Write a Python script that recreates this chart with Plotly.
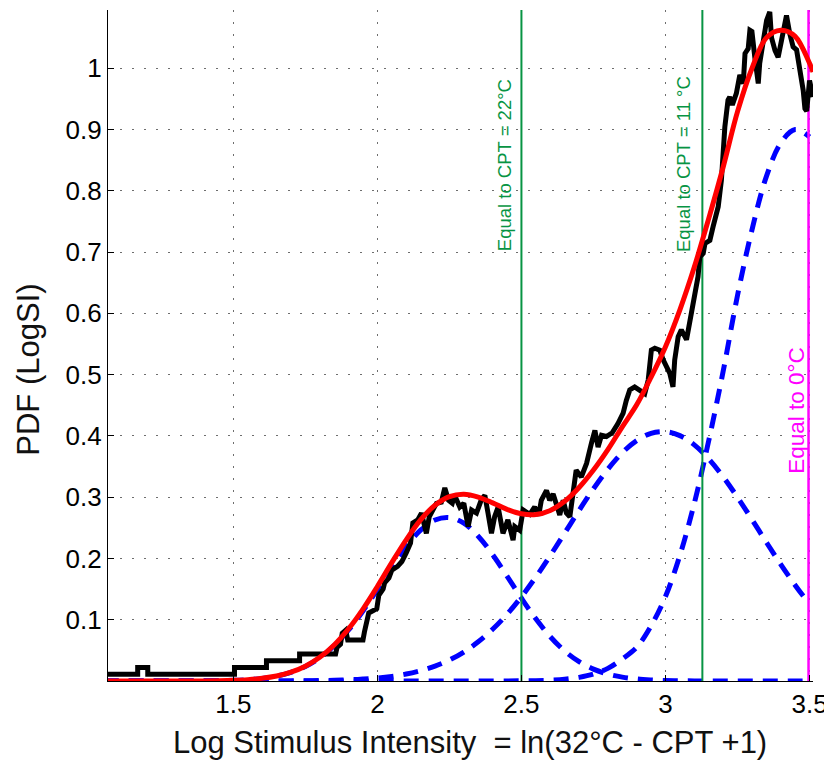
import plotly.graph_objects as go

# ---------------- data ----------------
FIT_X = [1.05, 1.10, 1.15, 1.20, 1.25, 1.30, 1.35, 1.40, 1.45, 1.50,
         1.55, 1.60, 1.65, 1.70, 1.75, 1.80, 1.85, 1.90, 1.95, 2.00,
         2.05, 2.10, 2.15, 2.20, 2.25, 2.30, 2.35, 2.40, 2.45, 2.50,
         2.55, 2.60, 2.65, 2.70, 2.75, 2.80, 2.85, 2.90, 2.95, 3.00,
         3.05, 3.10, 3.15, 3.20, 3.25, 3.30, 3.35, 3.40, 3.45, 3.50]

COMP1_Y = [0, 0, 0, 0, 0, 0, 0.0001, 0.0002, 0.0005, 0.0011,
           0.0022, 0.0043, 0.0080, 0.0141, 0.0237, 0.0379, 0.0577, 0.0833, 0.1143, 0.1494,
           0.1856, 0.2191, 0.2461, 0.2627, 0.2667, 0.2575, 0.2363, 0.2063, 0.1711, 0.1351,
           0.1014, 0.0723, 0.0490, 0.0316, 0.0194, 0.0113, 0.0063, 0.0033, 0.0017, 0.0008,
           0.0004, 0.0002, 0, 0, 0, 0, 0, 0, 0, 0]

COMP2_Y = [0, 0, 0, 0, 0, 0, 0, 0, 0, 0,
           0, 0.0001, 0.0001, 0.0002, 0.0004, 0.0007, 0.0011, 0.0019, 0.0031, 0.0048,
           0.0075, 0.0113, 0.0168, 0.0242, 0.0342, 0.0473, 0.0639, 0.0844, 0.1089, 0.1375,
           0.1696, 0.2046, 0.2413, 0.2783, 0.3137, 0.3457, 0.3725, 0.3924, 0.4041, 0.4068,
           0.4004, 0.3853, 0.3625, 0.3334, 0.2998, 0.2636, 0.2265, 0.1904, 0.1564, 0.1256]

COMP3_Y = [0, 0, 0, 0, 0, 0, 0, 0, 0, 0,
           0, 0, 0, 0, 0, 0, 0, 0, 0, 0,
           0, 0, 0, 0, 0, 0, 0, 0, 0.0001, 0.0003,
           0.0006, 0.0014, 0.0029, 0.0059, 0.0112, 0.0206, 0.0360, 0.055, 0.090, 0.138,
           0.205, 0.290, 0.392, 0.505, 0.6293, 0.7359, 0.8230, 0.878, 0.900, 0.888]

RED_EXTRA_X = [3.512]
RED_Y = [0, 0, 0, 0, 0, 0, 0.0001, 0.0002, 0.0005, 0.0011,
         0.0022, 0.0044, 0.0081, 0.0143, 0.0241, 0.0386, 0.0588, 0.0852, 0.1174, 0.1542,
         0.1931, 0.2304, 0.2629, 0.2869, 0.3009, 0.3048, 0.3002, 0.2907, 0.2801, 0.2729,
         0.2716, 0.2783, 0.2932, 0.3158, 0.3443, 0.3776, 0.4148, 0.4507, 0.4958, 0.5456,
         0.6058, 0.6755, 0.7545, 0.8384, 0.9291, 0.9995, 1.0495, 1.0620, 1.0520, 1.0080,
         0.994]

EMP_X = [1.065, 1.168, 1.168, 1.203, 1.203, 1.504, 1.504, 1.615, 1.615, 1.73,
         1.73, 1.855, 1.86, 1.872, 1.878, 1.89, 1.897, 1.95, 1.955, 1.965,
         1.97, 1.998, 2.005, 2.02, 2.025, 2.04, 2.05, 2.07, 2.085, 2.10,
         2.115, 2.123, 2.14, 2.153, 2.17, 2.18, 2.205, 2.222, 2.234, 2.247,
         2.26, 2.268, 2.286, 2.30, 2.315, 2.327, 2.344, 2.361, 2.373, 2.384,
         2.396, 2.407, 2.419, 2.436, 2.453, 2.471, 2.477, 2.494, 2.506, 2.529,
         2.546, 2.56, 2.569, 2.587, 2.598, 2.61, 2.62, 2.633, 2.645, 2.656,
         2.668, 2.68, 2.69, 2.708, 2.726, 2.743, 2.755, 2.766, 2.778, 2.795,
         2.815, 2.835, 2.853, 2.864, 2.876, 2.893, 2.911, 2.928, 2.94, 2.951,
         2.963, 2.98, 2.992, 3.003, 3.015, 3.026, 3.032, 3.044, 3.055, 3.073,
         3.085, 3.096, 3.108, 3.113, 3.119, 3.131, 3.137, 3.154, 3.165, 3.183,
         3.194, 3.2, 3.206, 3.217, 3.223, 3.232, 3.246, 3.258, 3.27, 3.276,
         3.287, 3.293, 3.30, 3.31, 3.322, 3.327, 3.339, 3.351, 3.362, 3.368,
         3.38, 3.391, 3.403, 3.414, 3.42, 3.431, 3.443, 3.455, 3.466, 3.478,
         3.484, 3.49, 3.5, 3.512]
EMP_Y = [0.011, 0.011, 0.022, 0.022, 0.011, 0.011, 0.022, 0.022, 0.033, 0.033,
         0.044, 0.044, 0.055, 0.06, 0.078, 0.083, 0.067, 0.067, 0.08, 0.10,
         0.111, 0.118, 0.14, 0.15, 0.16, 0.168, 0.181, 0.187, 0.195, 0.209,
         0.225, 0.258, 0.263, 0.274, 0.241, 0.268, 0.29, 0.292, 0.315, 0.295,
         0.29, 0.303, 0.284, 0.29, 0.252, 0.279, 0.274, 0.296, 0.303, 0.274,
         0.241, 0.268, 0.284, 0.241, 0.263, 0.23, 0.252, 0.246, 0.279, 0.272,
         0.284, 0.27, 0.295, 0.311, 0.295, 0.305, 0.29, 0.271, 0.295, 0.274,
         0.268, 0.311, 0.344, 0.333, 0.355, 0.388, 0.409, 0.382, 0.401, 0.399,
         0.405, 0.42, 0.437, 0.458, 0.475, 0.48, 0.475, 0.469, 0.491, 0.54,
         0.543, 0.54, 0.524, 0.513, 0.502, 0.48, 0.524, 0.562, 0.573, 0.557,
         0.589, 0.622, 0.649, 0.66, 0.692, 0.698, 0.714, 0.719, 0.741, 0.774,
         0.817, 0.883, 0.904, 0.948, 0.953, 0.94, 0.959, 0.989, 0.975, 1.024,
         1.032, 1.062, 1.06, 1.018, 0.975, 1.008, 1.046, 1.078, 1.092, 1.05,
         1.029, 1.018, 1.046, 1.078, 1.086, 1.057, 1.035, 1.03, 1.002, 0.964,
         0.934, 0.93, 0.98, 0.953]

GREEN_X = [2.5, 3.128]
GREEN_LABELS = ["Equal to CPT = 22°C", "Equal to CPT = 11 °C"]
GREEN_LABEL_X = [2.440, 3.065]
GREEN_LABEL_Y = [0.842, 0.844]
MAGENTA_X = 3.4965
MAGENTA_LABEL = "Equal to 0°C"
MAGENTA_LABEL_POS = (3.452, 0.442)

X_TICKS = [1.5, 2, 2.5, 3, 3.5]
X_TICK_TEXT = ["1.5", "2", "2.5", "3", "3.5"]
Y_TICKS = [0.1, 0.2, 0.3, 0.4, 0.5, 0.6, 0.7, 0.8, 0.9, 1.0]
Y_TICK_TEXT = ["0.1", "0.2", "0.3", "0.4", "0.5", "0.6", "0.7", "0.8", "0.9", "1"]
X_RANGE = [1.065, 3.512]
Y_RANGE = [0, 1.095]

X_TITLE = "Log Stimulus Intensity  = ln(32°C - CPT +1)"
Y_TITLE = "PDF (LogSI)"

FONT = "Liberation Sans, Arial, sans-serif"
GREEN = "#079443"
MAGENTA = "#ff00ff"

fig = go.Figure()

# Gaussian components (blue dashed)
for comp in (COMP1_Y, COMP2_Y, COMP3_Y):
    fig.add_trace(go.Scatter(x=FIT_X, y=comp, mode="lines",
                             line=dict(color="#0000ff", width=5, dash="15px,10px", shape="spline"),
                             hoverinfo="skip", showlegend=False))

# vertical reference lines
for gx in GREEN_X:
    fig.add_trace(go.Scatter(x=[gx, gx], y=Y_RANGE, mode="lines",
                             line=dict(color=GREEN, width=2), showlegend=False))
fig.add_trace(go.Scatter(x=[MAGENTA_X, MAGENTA_X], y=Y_RANGE, mode="lines",
                         line=dict(color=MAGENTA, width=2.5), showlegend=False))

# empirical PDF (black)
fig.add_trace(go.Scatter(x=EMP_X, y=EMP_Y, mode="lines",
                         line=dict(color="black", width=5), showlegend=False))

# fitted mixture (red)
fig.add_trace(go.Scatter(x=FIT_X + RED_EXTRA_X, y=RED_Y, mode="lines",
                         line=dict(color="#ff0000", width=5, shape="spline"),
                         showlegend=False))

annotations = []
for lbl, lx, ly in zip(GREEN_LABELS, GREEN_LABEL_X, GREEN_LABEL_Y):
    annotations.append(dict(x=lx, y=ly, xref="x", yref="y", text=lbl, textangle=-90,
                            showarrow=False, xanchor="center", yanchor="middle",
                            font=dict(family=FONT, size=18.5, color=GREEN)))
annotations.append(dict(x=MAGENTA_LABEL_POS[0], y=MAGENTA_LABEL_POS[1], xref="x", yref="y",
                        text=MAGENTA_LABEL, textangle=-90, showarrow=False,
                        xanchor="center", yanchor="middle",
                        font=dict(family=FONT, size=22.5, color=MAGENTA)))
annotations.append(dict(x=0.514, y=-0.091, xref="paper", yref="paper", text=X_TITLE,
                        showarrow=False, xanchor="center", yanchor="middle",
                        font=dict(family=FONT, size=31, color="#111111")))
annotations.append(dict(x=-0.112, y=0.464, xref="paper", yref="paper", text=Y_TITLE,
                        textangle=-90, showarrow=False, xanchor="center", yanchor="middle",
                        font=dict(family=FONT, size=31, color="#111111")))

fig.update_layout(
    width=824, height=753,
    margin=dict(l=100, r=19, t=2, b=80),
    paper_bgcolor="white", plot_bgcolor="white",
    showlegend=False,
    font=dict(family=FONT, color="black"),
    annotations=annotations,
    xaxis=dict(range=X_RANGE, tickvals=X_TICKS, ticktext=X_TICK_TEXT,
               showline=True, linecolor="black", linewidth=1.2, mirror=False,
               ticks="inside", ticklen=6, tickcolor="black",
               showgrid=True, gridcolor="#6e6e6e", gridwidth=1.2, griddash="1.5px,10.5px",
               zeroline=False, tickfont=dict(family=FONT, size=26, color="black")),
    yaxis=dict(range=Y_RANGE, tickvals=Y_TICKS, ticktext=Y_TICK_TEXT,
               showline=True, linecolor="black", linewidth=1.2, mirror=False,
               ticks="inside", ticklen=6, tickcolor="black",
               showgrid=True, gridcolor="#6e6e6e", gridwidth=1.2, griddash="1.5px,10.5px",
               zeroline=False, tickfont=dict(family=FONT, size=26, color="black")),
)

fig.write_html("out.html")
